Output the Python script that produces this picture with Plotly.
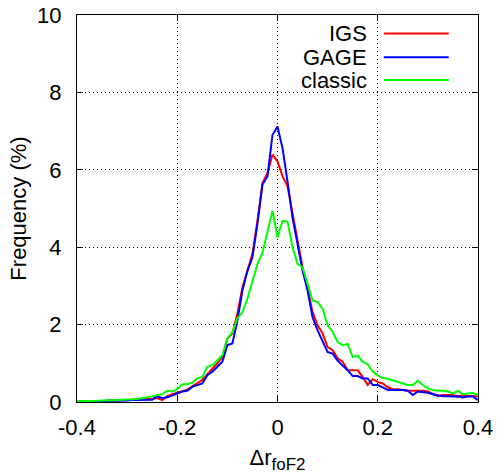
import plotly.graph_objects as go

x_vals = [round(-0.40 + 0.01 * i, 2) for i in range(81)]

igs = [0.02, 0.02, 0.02, 0.02, 0.03, 0.03, 0.03, 0.04, 0.04, 0.05,
       0.05, 0.06, 0.07, 0.08, 0.08, 0.08, 0.10, 0.05, 0.15, 0.20,
       0.25, 0.28, 0.32, 0.41, 0.48, 0.57, 0.72, 0.85, 1.00, 1.16,
       1.64, 1.77, 2.28, 2.96, 3.39, 3.83, 4.68, 5.66, 5.92, 6.39,
       6.22, 5.83, 5.58, 4.85, 4.20, 3.48, 2.93, 2.32, 1.98, 1.77,
       1.42, 1.34, 1.13, 1.04, 0.82, 0.82, 0.82, 0.65, 0.44, 0.59,
       0.52, 0.48, 0.38, 0.33, 0.33, 0.31, 0.29, 0.29, 0.29, 0.29,
       0.27, 0.22, 0.15, 0.18, 0.18, 0.18, 0.14, 0.18, 0.16, 0.15,
       0.15]

gage = [0.01, 0.01, 0.02, 0.02, 0.02, 0.02, 0.03, 0.03, 0.03, 0.04,
        0.04, 0.05, 0.05, 0.06, 0.06, 0.06, 0.15, 0.10, 0.12, 0.18,
        0.22, 0.27, 0.29, 0.39, 0.44, 0.48, 0.69, 0.78, 0.91, 1.04,
        1.47, 1.51, 2.10, 2.88, 3.39, 3.74, 4.60, 5.62, 5.83, 6.90,
        7.12, 6.56, 5.70, 4.76, 4.08, 3.39, 2.88, 2.19, 1.85, 1.59,
        1.29, 1.25, 1.07, 0.94, 0.82, 0.67, 0.67, 0.61, 0.61, 0.44,
        0.44, 0.38, 0.31, 0.31, 0.31, 0.31, 0.29, 0.18, 0.27, 0.25,
        0.24, 0.20, 0.18, 0.15, 0.15, 0.14, 0.15, 0.12, 0.14, 0.14,
        0.05]

classic = [0.02, 0.02, 0.03, 0.03, 0.03, 0.04, 0.04, 0.05, 0.05, 0.06,
           0.06, 0.07, 0.08, 0.10, 0.12, 0.14, 0.18, 0.20, 0.29, 0.27,
           0.33, 0.46, 0.46, 0.50, 0.61, 0.65, 0.91, 0.95, 1.08, 1.21,
           1.64, 1.81, 2.16, 2.32, 2.67, 3.09, 3.57, 3.86, 4.38, 4.94,
           4.25, 4.68, 4.66, 3.99, 3.57, 3.48, 3.05, 2.62, 2.58, 2.41,
           1.98, 1.81, 1.55, 1.47, 1.50, 1.16, 1.20, 1.04, 0.97, 0.78,
           0.69, 0.62, 0.60, 0.56, 0.52, 0.48, 0.44, 0.44, 0.55, 0.44,
           0.35, 0.31, 0.29, 0.29, 0.27, 0.22, 0.29, 0.20, 0.22, 0.24,
           0.18]

series_names = ["IGS", "GAGE", "classic"]
series_vals = [igs, gage, classic]
series_colors = ["#ff0000", "#0000ff", "#00ff00"]

x_ticks = [-0.4, -0.2, 0, 0.2, 0.4]
x_ticklabels = ["-0.4", "-0.2", "0", "0.2", "0.4"]
y_ticks = [0, 2, 4, 6, 8, 10]

FONT = "Liberation Sans, Arial, sans-serif"
FS = 22

fig = go.Figure()
for name, vals, col in zip(series_names, series_vals, series_colors):
    fig.add_trace(go.Scatter(x=x_vals, y=vals, mode="lines", name=name,
                             line=dict(color=col, width=2), showlegend=False))

# custom legend: text right-aligned, line sample on the right
leg_y = [0.952, 0.891, 0.832]
for name, col, ly in zip(series_names, series_colors, leg_y):
    fig.add_annotation(xref="paper", yref="paper", x=0.728, y=ly, text=name,
                       showarrow=False, xanchor="right", yanchor="middle",
                       font=dict(family=FONT, size=FS, color="black"))
    fig.add_shape(type="line", xref="paper", yref="paper", x0=0.765, x1=0.927,
                  y0=ly, y1=ly, line=dict(color=col, width=2))

axis_common = dict(showline=True, linecolor="black", linewidth=1, mirror="ticks",
                   ticks="inside", ticklen=6, tickcolor="black", automargin=False,
                   showgrid=True, gridcolor="black", gridwidth=1, griddash="1px,3px",
                   zeroline=False, tickfont=dict(family=FONT, size=FS, color="black"))

fig.update_xaxes(range=[-0.4, 0.4], tickvals=x_ticks, ticktext=x_ticklabels,
                 ticklabelstandoff=6,
                 title=dict(text="Δr<sub><span style='font-size:17px'>foF2</span></sub>",
                            font=dict(family=FONT, size=FS, color="black"),
                            standoff=12),
                 **axis_common)
fig.update_yaxes(range=[0, 10], tickvals=y_ticks, ticklabelstandoff=10,
                 title=dict(text="Frequency (%)", font=dict(family=FONT, size=FS, color="black"),
                            standoff=4),
                 **axis_common)

fig.update_layout(width=499, height=474, margin=dict(l=77, r=21, t=15, b=72),
                  plot_bgcolor="white", paper_bgcolor="white",
                  font=dict(family=FONT, size=FS, color="black"))

fig.write_html("out.html")
